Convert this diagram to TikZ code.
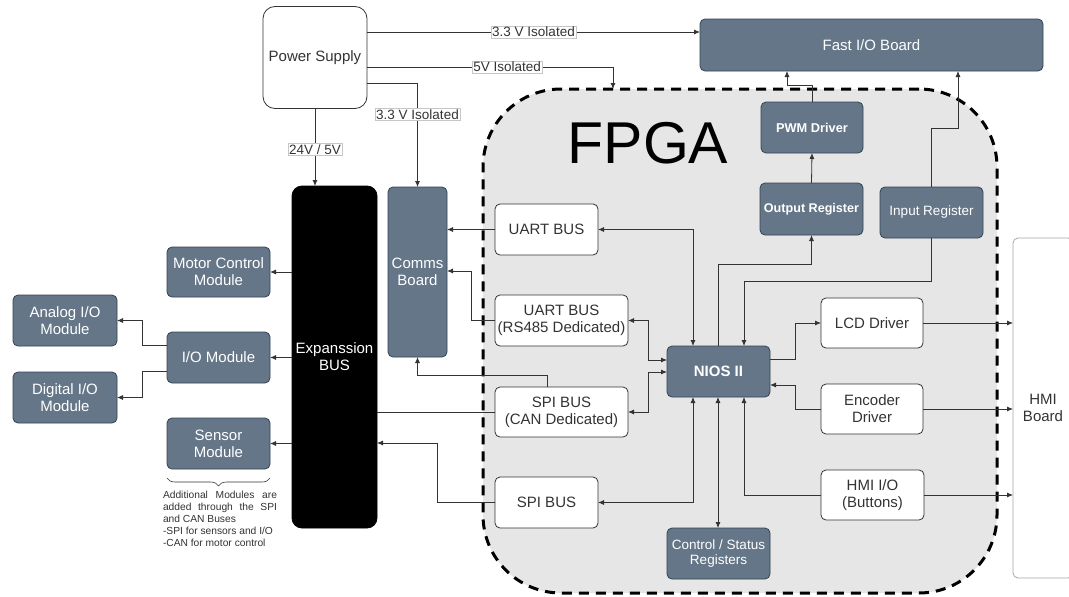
\documentclass[tikz,border=0pt]{standalone}
\usepackage{fontspec}
\setmainfont{Liberation Sans}
\usetikzlibrary{arrows.meta,decorations.pathreplacing}
\definecolor{slate}{HTML}{647687}
\definecolor{slatedk}{HTML}{314354}
\definecolor{fpgabg}{HTML}{E6E6E6}
\definecolor{ink}{HTML}{333333}
\begin{document}
\begin{tikzpicture}[x=1pt,y=-1pt,
  every node/.style={outer sep=0pt, inner sep=2pt},
  boxbase/.style={rounded corners=5pt, line width=0.8pt, align=center, font=\fontsize{15}{17}\selectfont},
  slatebox/.style={boxbase, fill=slate, draw=slatedk, text=white},
  whitebox/.style={boxbase, fill=white, draw=ink, text=ink},
  smallfont/.style={font=\fontsize{13.5}{15.5}\selectfont},
  wh/.style 2 args={minimum width=#1pt, minimum height=#2pt},
  lbl/.style={fill=white, draw=gray!45, line width=0.4pt, inner sep=1pt, font=\fontsize{13.5}{15}\selectfont, text=ink},
  conn/.style={draw=ink, line width=0.8pt, -{Latex[length=6pt,width=5pt]}},
  biconn/.style={draw=ink, line width=0.8pt, {Latex[length=6pt,width=5pt]}-{Latex[length=6pt,width=5pt]}},
  lineonly/.style={draw=ink, line width=0.8pt},
]
\useasboundingbox (0,0) rectangle (1069,597);
\fill[white] (0,0) rectangle (1069,597);

% FPGA region
\node[draw=black, fill=fpgabg, line width=3pt, dash pattern=on 10pt off 7pt,
      rounded corners=78pt, wh={514}{504}] (fpga) at (740,341) {};
\node[font=\fontsize{59}{60}\selectfont, text=black] (fpgalbl) at (648,143) {FPGA};

% Top level
\node[whitebox, wh={104}{102}, rounded corners=12pt] (ps) at (315,57.5) {Power Supply};
\node[slatebox, wh={343}{52}] (fio) at (871.5,45) {Fast I/O Board};

% Left side
\node[boxbase, fill=black, draw=black, text=white, wh={85}{342}, rounded corners=10pt] (exp) at (334.5,357) {Expanssion\\BUS};
\node[slatebox, wh={59}{170}] (comms) at (417.5,272) {Comms\\Board};
\node[slatebox, wh={103}{50}] (motor) at (218.5,272) {Motor Control\\Module};
\node[slatebox, wh={103}{51}] (iom) at (218.5,357.5) {I/O Module};
\node[slatebox, wh={104}{51}] (analog) at (65,320.5) {Analog I/O\\Module};
\node[slatebox, wh={104}{51}] (digital) at (65,397.5) {Digital I/O\\Module};
\node[slatebox, wh={103}{51}] (sensor) at (218.5,443.5) {Sensor\\Module};

% FPGA internals
\node[slatebox, wh={102}{51}, font=\bfseries\fontsize{12.8}{15}\selectfont] (pwm) at (812,127.5) {PWM Driver};
\node[slatebox, wh={103}{52}, font=\bfseries\fontsize{12.6}{15}\selectfont] (outreg) at (811.5,209) {Output Register};
\node[slatebox, wh={103}{51}, smallfont] (inreg) at (931.5,212.5) {Input Register};
\node[whitebox, wh={103}{51}] (uart1) at (546.5,229.5) {UART BUS};
\node[whitebox, wh={133}{51}] (uart2) at (561.5,320.5) {UART BUS\\(RS485 Dedicated)};
\node[whitebox, wh={133}{50}] (spican) at (561.5,412) {SPI BUS\\(CAN Dedicated)};
\node[whitebox, wh={103}{51}] (spi) at (546.5,502.5) {SPI BUS};
\node[slatebox, wh={103}{51}, font=\bfseries\fontsize{15}{17}\selectfont] (nios) at (718.5,371.5) {NIOS II};
\node[slatebox, wh={103}{51}, smallfont] (csr) at (718.5,553.5) {Control / Status\\Registers};
\node[whitebox, wh={102}{50}] (lcd) at (872,323) {LCD Driver};
\node[whitebox, wh={102}{50}] (enc) at (872,409) {Encoder\\Driver};
\node[whitebox, wh={103}{50}] (hmiio) at (872.5,495) {HMI I/O\\(Buttons)};
\node[whitebox, wh={60}{340}, draw=gray!70] (hmi) at (1043,408) {HMI\\Board};

% Power connectors
\draw[conn] (ps.east |- 0,32) -- (fio.west |- 0,32) node[lbl, pos=0.5] (l33a) {3.3 V Isolated};
\draw[conn] (ps.east |- 0,67) -| (fpga.north -| 613,0) node[lbl, pos=0.285] (l5v) {5V Isolated};
\draw[conn] (ps.east |- 0,83) -| (comms.north) node[lbl, pos=0.65] (l33b) {3.3 V Isolated};
\draw[conn] (ps.south) -- (ps.south |- exp.north) node[lbl, pos=0.53] (l24) {24V / 5V};

% Expansion bus to modules
\draw[conn] (exp.west |- motor.east) -- (motor.east);
\draw[conn] (exp.west |- iom.east) -- (iom.east);
\draw[conn] (exp.west |- sensor.east) -- (sensor.east);
\draw[conn] (iom.west |- 0,345) -- (142,345) |- (analog.east);
\draw[conn] (iom.west |- 0,371) -- (142,371) |- (digital.east);

% Bus to comms / expansion
\draw[conn] (uart1.west) -- (comms.east |- uart1.west);
\draw[conn] (uart2.west) -- (471,320.5) |- (comms.east |- 0,271);
\draw[conn] (spican.north -| 547,0) -- (547,375) -| (comms.south);
\draw[lineonly] (spican.west) -- (exp.east |- spican.west);
\draw[conn] (spi.west) -- (437,502.5) |- (exp.east |- 0,443);

% NIOS connections
\draw[biconn] (uart1.east) -| (nios.north -| 693,0);
\draw[biconn] (uart2.east) -- (648,320.5) |- (nios.west |- 0,360);
\draw[biconn] (spican.east) -- (648,412) |- (nios.west |- 0,372);
\draw[conn] (nios.north -| 718,0) |- (outreg.south |- 0,264) -- (outreg.south);
\draw[conn] (inreg.south) |- (744,281) -- (nios.north -| 744,0);
\draw[conn] (outreg.north) -- (pwm.south);
\draw[conn] (pwm.north) -- ++(0,-17) -| (fio.south -| 787,0);
\draw[conn] (inreg.north) -- ++(0,-59) -| (fio.south -| 958,0);
\draw[conn] (nios.east |- 0,359) -- (795,359) |- (lcd.west);
\draw[conn] (enc.west) -- (795,409) |- (nios.east |- 0,385);
\draw[conn] (lcd.east) -- (hmi.west |- lcd.east);
\draw[conn] (enc.east) -- (hmi.west |- enc.east);
\draw[conn] (hmiio.east) -- (hmi.west |- hmiio.east);
\draw[conn] (hmiio.west) -| (nios.south -| 744,0);
\draw[biconn] (nios.south -| 693,0) |- (spi.east);
\draw[biconn] (nios.south -| 718,0) -- (csr.north -| 718,0);

% Brace and note
\draw[ink, line width=0.6pt, decorate, decoration={brace, mirror, amplitude=8pt}]
  (sensor.south west |- 0,478) -- (sensor.south east |- 0,478);
\node[anchor=north west, inner sep=0pt, align=left, text=ink,
      font=\fontsize{10.25}{12}\selectfont] (note) at (163,491)
  {\hbox to 114pt{Additional\hfill Modules\hfill are}\\
   \hbox to 114pt{added\hfill through\hfill the\hfill SPI}\\
   and CAN Buses\\
   -SPI for sensors and I/O\\
   -CAN for motor control};
\end{tikzpicture}
\end{document}
